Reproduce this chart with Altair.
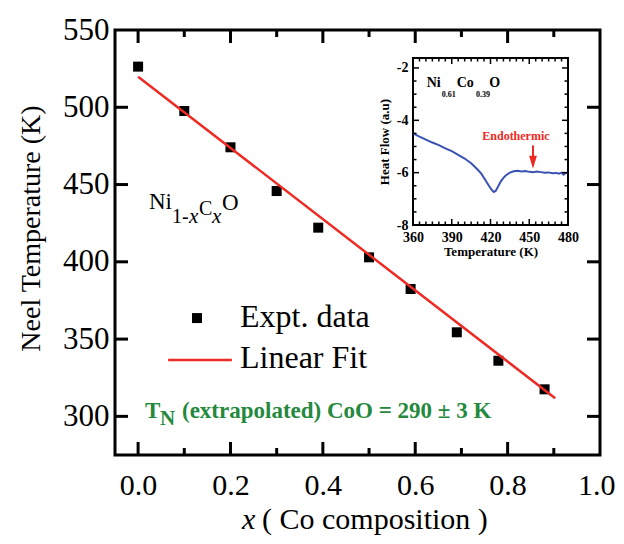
import altair as alt
import pandas as pd

SERIF = "Liberation Serif"
RED = "#ee2a24"
GREEN = "#23893c"
BLUE = "#3a52b4"

# ---------------- main data ----------------
co_x = [0.0, 0.1, 0.2, 0.3, 0.39, 0.5, 0.59, 0.69, 0.78, 0.88]
neel_T = [526.3, 497.6, 474.1, 445.8, 422.1, 402.9, 382.4, 354.4, 336.0, 317.5]
fit_x = [0.0, 0.903]
fit_T = [519.8, 311.7]

x_label_vals = [0.0, 0.2, 0.4, 0.6, 0.8, 1.0]
x_major_ticks = [0.0, 0.2, 0.4, 0.6, 0.8]
x_minor_ticks = [0.1, 0.3, 0.5, 0.7, 0.9]
y_label_vals = [300, 350, 400, 450, 500, 550]
y_major_ticks = [300, 350, 400, 450, 500]

# ---------------- inset data ----------------
inset_T = [360, 365, 370, 375, 380, 385, 390, 395, 400, 405, 410, 413, 416, 419,
           421, 422.5, 424, 426, 428, 430, 432, 435, 438, 441, 444, 447, 450, 453,
           456, 459, 462, 465, 468, 471, 473, 475, 476.5, 478, 480]
inset_hf = [-4.50, -4.62, -4.74, -4.85, -4.95, -5.07, -5.18, -5.32, -5.46, -5.64,
            -5.88, -6.05, -6.28, -6.52, -6.66, -6.74, -6.70, -6.52, -6.33, -6.20,
            -6.10, -6.00, -5.95, -5.93, -5.96, -5.94, -5.97, -5.98, -5.96, -5.98,
            -6.00, -5.99, -6.02, -6.01, -6.04, -6.00, -6.08, -6.02, -5.99]
inset_x_label_vals = [360, 390, 420, 450, 480]
inset_x_major_ticks = [390, 420, 450]
inset_x_minor_ticks = [365, 370, 375, 380, 385, 395, 400, 405, 410, 415,
                       425, 430, 435, 440, 445, 455, 460, 465, 470, 475]
inset_y_label_vals = [-8, -6, -4, -2]
inset_y_major_ticks = [-6, -4, -2]
inset_y_minor_ticks = [-7.5, -7, -6.5, -5.5, -5, -4.5, -3.5, -3, -2.5]

# ---------------- geometry ----------------
W, H = 485, 425
IX0, IX1, IY0, IY1 = 298, 453, 28, 195   # inset box inside plot area (px)


def XS():
    return alt.Scale(domain=[-0.05, 1.0], nice=False, zero=False)


def YS():
    return alt.Scale(domain=[275, 550], nice=False, zero=False)


def IXS():
    return alt.Scale(domain=[360, 480], range=[IX0, IX1], nice=False, zero=False)


def IYS():
    return alt.Scale(domain=[-8, -1.62], range=[IY1, IY0], nice=False, zero=False)


def text_layer(xs, ys, texts, size, inset=False, color="black", weight="normal",
               style="normal", align="left"):
    df = pd.DataFrame({"x": xs, "y": ys, "t": texts})
    sx, sy = (IXS(), IYS()) if inset else (XS(), YS())
    return alt.Chart(df).mark_text(
        align=align, baseline="alphabetic", font=SERIF, fontSize=size,
        fontWeight=weight, fontStyle=style, color=color
    ).encode(
        x=alt.X("x:Q", scale=sx, axis=None),
        y=alt.Y("y:Q", scale=sy, axis=None),
        text="t:N",
    )


def vrules(vals, y0, y1, width, inset=False):
    sx = IXS() if inset else XS()
    return alt.Chart(pd.DataFrame({"v": vals})).mark_rule(
        color="black", strokeWidth=width
    ).encode(x=alt.X("v:Q", scale=sx, axis=None), y=alt.value(y0), y2=alt.value(y1))


def hrules(vals, x0, x1, width, inset=False):
    sy = IYS() if inset else YS()
    return alt.Chart(pd.DataFrame({"v": vals})).mark_rule(
        color="black", strokeWidth=width
    ).encode(y=alt.Y("v:Q", scale=sy, axis=None), x=alt.value(x0), x2=alt.value(x1))


layers = []

# main points with axes
x_axis = alt.Axis(values=x_label_vals, format=".1f", ticks=False, tickSize=0,
                  domain=False, grid=False, labelFont=SERIF, labelFontSize=30,
                  labelPadding=15, labelFlush=True, labelFlushOffset=15,
                  labelColor="black", title=None)
y_axis = alt.Axis(values=y_label_vals, format="d", ticks=False, tickSize=0,
                  domain=False, grid=False, labelFont=SERIF, labelFontSize=31,
                  labelPadding=6, labelColor="black", title="Neel Temperature (K)",
                  titleFont=SERIF, titleFontSize=28, titleFontWeight="normal",
                  titleColor="black", titleX=-84, titleY=198, titleBaseline="middle",
                  titleAngle=270)

pts = pd.DataFrame({"x": co_x, "T": neel_T})
layers.append(alt.Chart(pts).mark_square(size=100, color="black", opacity=1).encode(
    x=alt.X("x:Q", scale=XS(), axis=x_axis),
    y=alt.Y("T:Q", scale=YS(), axis=y_axis),
))

# linear fit
fit = pd.DataFrame({"x": fit_x, "T": fit_T})
layers.append(alt.Chart(fit).mark_line(color=RED, strokeWidth=2.5).encode(
    x=alt.X("x:Q", scale=XS(), axis=None),
    y=alt.Y("T:Q", scale=YS(), axis=None),
))

# main inward ticks
layers += [
    vrules(x_major_ticks, H, H - 13, 3),
    vrules(x_minor_ticks, H, H - 7, 3),
    vrules(x_major_ticks, 0, 13, 3),
    vrules(x_minor_ticks, 0, 7, 3),
    hrules(y_major_ticks, 0, 13, 3),
    hrules(y_major_ticks, W, W - 13, 3),
]

# legend
layers.append(alt.Chart(pd.DataFrame({"x": [0.1275], "T": [363.6]})).mark_square(
    size=100, color="black", opacity=1).encode(
    x=alt.X("x:Q", scale=XS(), axis=None), y=alt.Y("T:Q", scale=YS(), axis=None)))
layers.append(alt.Chart(pd.DataFrame({"x": [0.065, 0.203], "T": [336.5, 336.5]})).mark_line(
    color=RED, strokeWidth=2.5).encode(
    x=alt.X("x:Q", scale=XS(), axis=None), y=alt.Y("T:Q", scale=YS(), axis=None)))
layers.append(text_layer([0.2206, 0.2206], [357.8, 331.3], ["Expt. data", "Linear Fit"], 32))

# formula Ni(1-x)C(x)O
layers.append(text_layer([0.0236, 0.1816], [434.2, 433.5], ["Ni", "O"], 23))
layers.append(text_layer([0.0734], [425.1], ["1-"], 20))
layers.append(text_layer([0.1319], [430.3], ["C"], 20))
layers.append(text_layer([0.1102, 0.1600], [425.1, 425.1], ["x", "x"], 21, style="italic"))

# green extrapolation note
layers.append(text_layer([0.0149, 0.0950], [298.9, 298.9],
                         ["T", "(extrapolated) CoO = 290 \u00b1 3 K"], 23,
                         color=GREEN, weight="bold"))
layers.append(text_layer([0.0474], [294.4], ["N"], 21, color=GREEN, weight="bold"))

# x-axis title
layers.append(alt.Chart(pd.DataFrame({"t": ["x"]})).mark_text(
    align="left", baseline="alphabetic", font=SERIF, fontSize=30, fontStyle="italic",
    color="black").encode(x=alt.value(127), y=alt.value(499), text="t:N"))
layers.append(alt.Chart(pd.DataFrame({"t": ["(  Co  composition  )"]})).mark_text(
    align="left", baseline="alphabetic", font=SERIF, fontSize=30,
    color="black").encode(x=alt.value(147), y=alt.value(499), text="t:N"))

# ---------------- inset ----------------
layers.append(alt.Chart(pd.DataFrame({"a": [0]})).mark_rect(
    fill="white", stroke="black", strokeWidth=2).encode(
    x=alt.value(IX0), x2=alt.value(IX1), y=alt.value(IY0), y2=alt.value(IY1)))

ix_axis = alt.Axis(orient="bottom", offset=IY1 - H, values=inset_x_label_vals,
                   format="d", ticks=False, tickSize=0, domain=False, grid=False,
                   labelFont=SERIF, labelFontWeight="bold", labelFontSize=14,
                   labelPadding=5, labelFlush=False, labelColor="black",
                   title="Temperature (K)", titleFont=SERIF, titleFontSize=13,
                   titleFontWeight="bold", titleColor="black", titlePadding=1)
iy_axis = alt.Axis(orient="left", offset=-IX0, values=inset_y_label_vals,
                   labelExpr="'' + datum.value", ticks=False, tickSize=0,
                   domain=False, grid=False, labelFont=SERIF, labelFontWeight="bold",
                   labelFontSize=14, labelPadding=5, labelFlush=False,
                   labelColor="black", title="Heat Flow (a.u)", titleFont=SERIF,
                   titleFontSize=13, titleFontWeight="bold", titleColor="black",
                   titlePadding=5)

curve = pd.DataFrame({"T": inset_T, "hf": inset_hf})
layers.append(alt.Chart(curve).mark_line(color=BLUE, strokeWidth=2).encode(
    x=alt.X("T:Q", scale=IXS(), axis=ix_axis),
    y=alt.Y("hf:Q", scale=IYS(), axis=iy_axis),
))

layers += [
    vrules(inset_x_major_ticks, IY1, IY1 - 6, 1.5, inset=True),
    vrules(inset_x_minor_ticks, IY1, IY1 - 3.5, 1.5, inset=True),
    vrules(inset_x_major_ticks, IY0, IY0 + 6, 1.5, inset=True),
    vrules(inset_x_minor_ticks, IY0, IY0 + 3.5, 1.5, inset=True),
    hrules(inset_y_major_ticks, IX0, IX0 + 6, 1.5, inset=True),
    hrules(inset_y_minor_ticks, IX0, IX0 + 3.5, 1.5, inset=True),
    hrules(inset_y_major_ticks, IX1, IX1 - 6, 1.5, inset=True),
    hrules(inset_y_minor_ticks, IX1, IX1 - 3.5, 1.5, inset=True),
]

# inset label Ni0.61Co0.39O
layers.append(text_layer([370.6, 393.8, 419.1], [-2.71, -2.71, -2.71], ["Ni", "Co", "O"], 14,
                         inset=True, weight="bold"))
layers.append(text_layer([382.2, 408.8], [-3.10, -3.10], ["0.61", "0.39"], 8,
                         inset=True, weight="bold"))

# endothermic arrow
layers.append(text_layer([439.7], [-4.75], ["Endothermic"], 12, inset=True,
                         color=RED, weight="bold", align="center"))
layers.append(alt.Chart(pd.DataFrame({"T": [452.9], "a": [-4.96], "b": [-5.42]})).mark_rule(
    color=RED, strokeWidth=2).encode(
    x=alt.X("T:Q", scale=IXS(), axis=None),
    y=alt.Y("a:Q", scale=IYS(), axis=None),
    y2="b:Q"))
layers.append(alt.Chart(pd.DataFrame({"T": [452.9], "a": [-5.60]})).mark_point(
    shape="M-0.6,-1L0.6,-1L0,1Z", size=169, filled=True, color=RED, opacity=1).encode(
    x=alt.X("T:Q", scale=IXS(), axis=None),
    y=alt.Y("a:Q", scale=IYS(), axis=None)))

chart = alt.layer(*layers).resolve_scale(
    x="independent", y="independent"
).properties(
    width=W, height=H,
    autosize=alt.AutoSizeParams(type="none"),
    padding={"left": 107, "top": 22, "right": 16, "bottom": 81},
).configure_view(stroke="black", strokeWidth=3)

chart.save("out.html", embed_options={"renderer": "svg", "actions": False})
